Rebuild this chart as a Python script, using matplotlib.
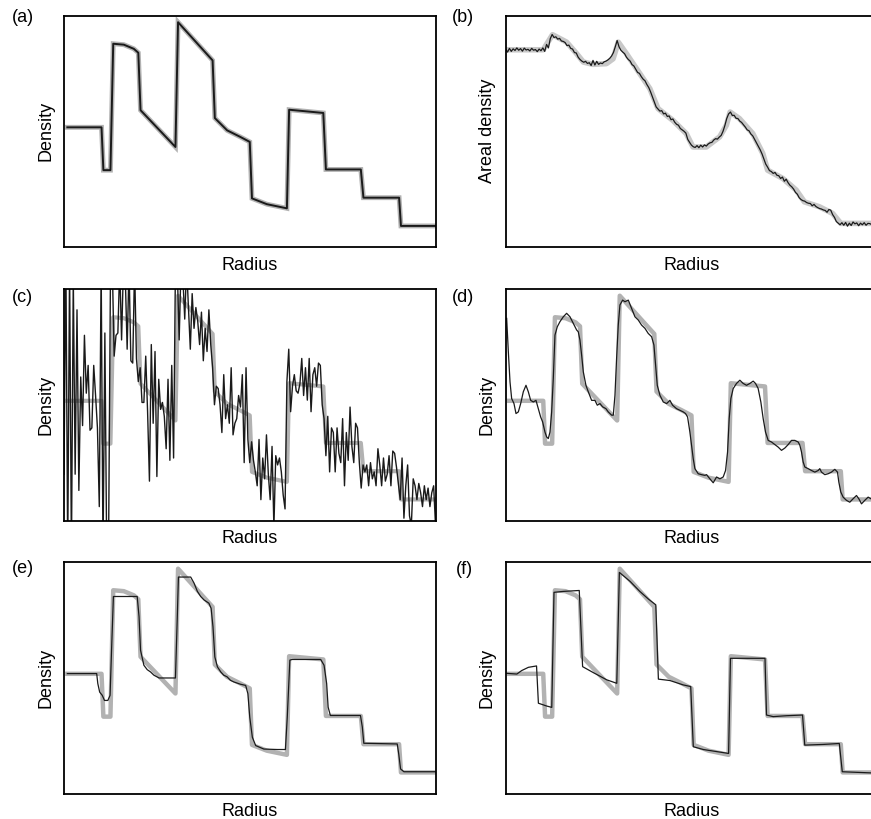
import matplotlib.pyplot as plt
import numpy as np

plt.rcParams['font.family'] = ['Liberation Sans', 'DejaVu Sans']

# perfil verdadero (gris), radio 0-100, densidad 0-100
true_r = [0.9, 10.1, 10.6, 12.5, 13.25, 16.1, 18.8, 20.0, 20.6, 30.0, 30.7, 40.0, 40.6, 43.9,
          47.4, 50.0, 50.6, 54.6, 60.0, 60.6, 69.8, 70.5, 79.9, 80.6, 90.2, 90.7, 100]
true_d = [51.7, 51.7, 33.2, 33.2, 87.8, 87.4, 85.6, 83.9, 59.1, 43.2, 97.1, 80.6, 55.7, 50.4,
          47.6, 45.4, 21.0, 18.5, 16.7, 59.3, 57.9, 33.5, 33.5, 21.3, 21.3, 9.1, 9.1]

# (b) densidad areal
areal_r = [0.3, 10.1, 12.6, 16.4, 19.1, 20.9, 23.5, 27.1, 28.9, 30.3, 32.5, 36.1, 38.8, 41.0,
           45.0, 48.6, 50.4, 54.0, 57.6, 59.4, 60.4, 62.9, 66.5, 69.2, 70.5, 74.6, 78.2, 80.4,
           84.4, 88.0, 90.2, 100]
areal_d = [85.2, 85.2, 91.7, 88.5, 83.5, 79.9, 78.9, 79.2, 81.3, 88.5, 83.5, 74.9, 68.4, 59.8,
           54.7, 49.0, 43.2, 43.2, 47.6, 52.6, 58.3, 55.5, 49.0, 40.4, 33.2, 29.6, 24.6, 19.5,
           17.4, 14.5, 10.2, 10.2]
areal_medida = [
    85.5, 84.2, 85.8, 84.5, 85.6, 84.9, 86.0, 85.0, 85.7, 84.6, 85.9, 85.1, 85.4, 84.7, 85.8, 85.0, 85.3, 84.4, 85.5, 84.8,
    86.0, 84.5, 87.5, 86.0, 90.0, 91.8, 90.5, 90.8, 89.8, 90.1, 89.0, 88.8, 88.3, 87.0, 87.2, 85.8, 85.5, 84.0, 83.8, 82.0,
    81.0, 80.3, 79.8, 80.2, 79.3, 79.6, 78.4, 80.6, 78.6, 80.2, 78.9, 79.5, 79.2, 80.0, 80.3, 80.8, 81.5, 82.5, 84.0, 86.5,
    89.2, 86.5, 85.0, 84.2, 83.5, 82.0, 81.0, 80.3, 78.8, 78.2, 76.8, 75.4, 75.0, 73.6, 72.5, 71.8, 70.2, 68.9, 67.0, 64.8,
    62.5, 60.5, 59.6, 58.7, 58.9, 57.5, 57.8, 56.4, 56.6, 55.0, 55.3, 53.9, 53.0, 52.6, 51.2, 50.6, 50.0, 49.2, 46.5, 45.2,
    44.0, 43.3, 43.0, 43.8, 42.9, 44.0, 43.2, 44.1, 43.6, 44.5, 45.0, 45.2, 46.2, 46.8, 46.6, 47.5, 48.2, 50.0, 52.5, 55.5,
    57.5, 58.3, 56.8, 56.9, 55.6, 55.5, 54.4, 53.8, 52.8, 51.8, 50.6, 50.2, 48.8, 48.0, 46.5, 45.0, 43.6, 42.0, 40.2, 38.0,
    35.8, 34.5, 33.0, 32.6, 31.8, 32.2, 31.0, 30.8, 29.6, 30.2, 28.4, 29.3, 27.8, 26.7, 26.0, 25.0, 23.6, 22.8, 21.3, 20.5,
    20.0, 19.8, 19.2, 18.9, 18.8, 17.8, 18.4, 17.5, 17.0, 16.6, 16.4, 16.0, 15.8, 15.0, 16.2, 15.9, 14.0, 12.8, 11.0, 10.3,
    9.6, 10.5, 9.4, 10.6, 9.0, 10.3, 9.3, 10.8, 10.0, 10.4, 9.2, 10.3, 9.6, 10.5, 9.4, 10.2, 10.1, 9.7, 10.5, 9.8,
    10.3]

# (c) inversion directa con ruido
ruido_c = [
    20, 115, -15, 110, -15, 105, 20, 91, 13, 62, 41, 80, 55, 67, 39, 40, 67, 54, 40, 6,
    110, -15, 81, -15, -10, 105, 110, 71, 80, 81, 110, 78, 110, 105, 74, 110, 69, 68, 110, 70,
    60, 66, 51, 51, 71, 47, 17, 76, 42, 73, 19, 61, 48, 51, 45, 31, 61, 26, 67, 27,
    110, 108, 78, 110, 105, 87, 110, 92, 74, 98, 83, 92, 86, 76, 90, 69, 83, 73, 91, 76,
    66, 50, 58, 57, 50, 38, 63, 44, 50, 42, 66, 37, 42, 44, 54, 49, 63, 25, 66, 35,
    25, 34, 26, 21, 15, 35, 9, 27, 18, 37, 20, 9, 32, -3, 28, 24, 27, 21, 11, 5,
    60, 74, 47, 58, 63, 56, 55, 59, 70, 54, 66, 52, 70, 47, 63, 66, 58, 68, 67, 50,
    44, 28, 45, 21, 40, 38, 21, 40, 29, 25, 44, 15, 38, 26, 49, 32, 25, 42, 40, 25,
    14, 24, 21, 24, 15, 25, 18, 21, 15, 31, 24, 15, 27, 17, 20, 28, 15, 30, 29, 23,
    16, 9, 27, 1, 15, 24, 2, -2, 18, 15, 9, 16, 12, 6, 15, 9, 14, 6, 12, 15,
    -2]

# (d) suavizado
d_r = [0.26, 0.71, 1.16, 1.60, 2.23, 2.77, 3.40, 4.03, 4.74, 5.46, 6.09, 6.72, 7.43, 8.15,
       8.78, 9.41, 9.94, 10.57, 11.02, 11.47, 11.92, 12.37, 12.81, 13.26, 13.89, 14.61, 15.51,
       16.40, 17.30, 18.20, 19.09, 19.54, 19.99, 20.44, 20.89, 21.60, 22.23, 23.13, 24.02,
       24.65, 25.37, 26.09, 26.98, 27.61, 28.51, 28.96, 29.41, 29.85, 30.30, 30.75, 31.47,
       32.10, 33.00, 33.89, 34.79, 35.68, 36.58, 37.48, 38.37, 39.27, 39.90, 40.35, 40.80,
       41.51, 42.41, 43.31, 44.20, 44.92, 45.99, 46.89, 47.79, 48.41,
       48.96, 49.58, 50.03, 50.48, 50.93, 51.82, 52.72, 53.62, 54.07, 54.96, 55.86, 56.76,
       57.65, 58.55, 59.18, 59.72, 60.16, 60.61, 61.24, 62.13, 63.03, 63.93, 64.83, 65.72,
       66.62, 67.25, 67.96, 68.68, 69.31, 69.94, 70.66, 71.55, 72.45, 73.35, 74.24, 75.14,
       76.04, 76.93, 77.83, 78.73, 79.18, 79.62, 80.07, 80.52, 81.42, 82.31, 83.21, 84.11,
       84.55, 85.00, 85.90, 86.80, 87.69, 88.59, 89.31, 89.67, 90.20, 90.83, 91.73, 92.62,
       93.52, 94.42, 95.05, 95.77, 96.66, 97.56, 98.28, 99.2, 100]
d_d = [87.3, 72.9, 59.9, 52.7, 50.5, 46.2, 46.9, 50.5, 55.6, 58.4, 55.6, 51.9, 51.2, 51.9,
       48.3, 44.7, 42.6, 38.2, 36.1, 35.4, 38.2, 46.9, 61.3, 80.1, 83.7, 85.9, 88.0, 89.5,
       88.0, 85.1, 82.3, 81.5, 77.9, 71.4, 64.2, 58.4, 55.6, 51.9, 51.9, 49.8, 50.5, 49.1,
       48.3, 46.9, 45.5, 45.5, 54.1, 70.0, 84.4, 93.1, 95.2, 94.5, 95.2, 91.6, 88.0, 86.6,
       84.4, 83.0, 80.8, 79.4, 75.8, 67.1, 58.4, 54.1, 51.2, 50.5, 51.9, 49.8, 48.3, 47.6,
       46.9, 46.2,
       44.7, 38.2, 32.5, 26.7, 22.4, 20.2, 19.8, 19.5, 19.8, 18.0, 16.3, 18.8, 18.0, 18.8,
       21.6, 29.6, 44.0, 52.7, 57.0, 59.2, 60.6, 59.2, 58.4, 59.2, 60.2, 59.2, 57.0, 51.2,
       44.0, 38.2, 34.6, 33.9, 32.8, 31.7, 30.3, 31.3, 32.8, 34.6, 34.6, 33.9, 32.5, 29.6,
       25.3, 23.1, 22.4, 21.6, 20.9, 21.6, 22.4, 20.9, 19.8, 20.2, 20.9, 22.1, 20.9, 16.6,
       12.3, 10.1, 8.7, 7.9, 9.4, 10.8, 9.4, 7.2, 8.7, 10.1, 9.4, 8.6, 9.3]

# (e)
e_r = [0.9, 8.8, 9.1, 9.6, 10.3, 10.9, 11.8, 12.4, 12.8, 13.3, 19.7, 20.2, 20.6, 21.5, 22.4,
       23.3, 24.2, 25.6, 30.0, 30.5, 30.8, 34.1, 35.0, 35.9, 36.8, 37.7, 39.0, 39.6, 40.1,
       40.6, 41.3, 42.2, 43.0, 43.9, 44.8, 45.7, 47.5, 48.9, 49.5, 50.0, 50.7, 51.6, 53.8,
       57.4, 59.6, 60.1, 60.8, 61.4, 69.1, 70.0, 70.7, 71.1, 71.7, 79.8, 80.3, 80.7, 89.7,
       90.1, 90.6, 91.5, 100]
e_d = [51.8, 51.8, 47.5, 43.8, 42.4, 40.2, 40.2, 42.4, 61.9, 85.1, 85.1, 76.4, 61.9, 55.4,
       53.5, 52.5, 51.1, 49.9, 49.9, 76.4, 93.5, 93.5, 90.9, 87.3, 85.1, 83.6, 82.2, 80.0,
       72.1, 59.0, 54.7, 52.5, 51.1, 50.4, 48.9, 48.2, 47.2, 46.7, 43.1, 33.0, 24.3, 20.7,
       19.2, 19.0, 19.0, 33.0, 57.6, 57.9, 57.9, 55.4, 47.5, 37.3, 33.7, 33.7, 28.7, 21.7,
       21.4, 17.1, 10.6, 9.4, 9.4]

# (f)
f_r = [0.3, 3.0, 4.3, 6.1, 8.3, 8.8, 11.0, 12.4, 13.0, 15.5, 19.8, 20.7, 23.6, 27.2, 29.9,
       30.6, 33.5, 36.1, 38.4, 40.4, 41.1, 44.2, 47.8, 49.8, 50.5, 53.2, 57.2, 60.0, 60.5,
       69.8, 70.2, 72.0, 75.6, 79.9, 80.5, 85.5, 89.8, 90.6, 98.3, 100]
f_d = [51.9, 51.6, 53.1, 54.5, 55.1, 39.0, 37.8, 37.2, 86.9, 87.3, 87.7, 54.8, 52.2, 49.1,
       47.6, 95.5, 91.6, 87.3, 84.0, 81.5, 49.4, 48.8, 46.9, 46.2, 20.2, 19.0, 18.0, 17.3,
       58.4, 58.4, 33.9, 33.2, 33.6, 33.9, 20.9, 21.2, 21.6, 9.4, 8.9, 8.9]

W, H = 871, 819
GRIS = '#b2b2b2'


def posicion(izq, arriba, ancho=371.5, alto=231.5):
    return [izq / W, 1 - (arriba + alto) / H, ancho / W, alto / H]


def caja(fig, pos, ylabel):
    ax = fig.add_axes(pos)
    ax.set_xlim(0, 100)
    ax.set_ylim(0, 100)
    ax.set_xticks([])
    ax.set_yticks([])
    for s in ax.spines.values():
        s.set_linewidth(1.3)
    ax.set_xlabel('Radius', fontsize=13, labelpad=7)
    ax.set_ylabel(ylabel, fontsize=13, labelpad=7)
    return ax


fig = plt.figure(figsize=(W / 100, H / 100), dpi=100)

ax = caja(fig, posicion(64, 15.5), 'Density')
ax.plot(true_r, true_d, color=GRIS, lw=3.5, solid_joinstyle='miter')
ax.plot(true_r, true_d, color='#1a1a1a', lw=1.4)

ax = caja(fig, posicion(505.7, 15.5), 'Areal density')
radio = np.linspace(0, 100, len(areal_medida))
ax.plot(areal_r, areal_d, color='#c8c8c8', lw=4)
ax.plot(radio, areal_medida, color='#1a1a1a', lw=0.9)

ax = caja(fig, posicion(64, 289), 'Density')
radio = np.linspace(0, 100, len(ruido_c))
ax.plot(true_r, true_d, color=GRIS, lw=3)
ax.plot(radio, ruido_c, color='#1a1a1a', lw=1.0)

for pos, r, d in [(posicion(505.7, 289), d_r, d_d),
                  (posicion(64, 562), e_r, e_d),
                  (posicion(505.7, 562), f_r, f_d)]:
    ax = caja(fig, pos, 'Density')
    ax.plot(true_r, true_d, color=GRIS, lw=3.2)
    ax.plot(r, d, color='#1a1a1a', lw=0.9)

for letra, x, y in [('(a)', 12, 9), ('(b)', 452, 9), ('(c)', 12, 289),
                    ('(d)', 452, 289), ('(e)', 12, 560), ('(f)', 456, 561)]:
    fig.text(x / W, 1 - y / H, letra, fontsize=13, ha='left', va='top')

fig.savefig('out.png', dpi=100)
